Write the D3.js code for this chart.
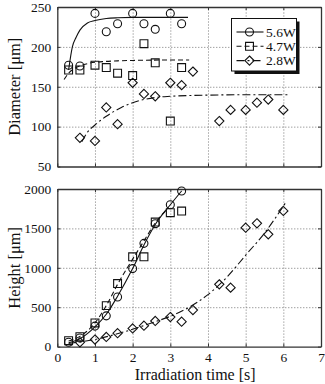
<!DOCTYPE html>
<html>
<head>
<meta charset="utf-8">
<script src="https://cdn.jsdelivr.net/npm/d3@7"></script>
<style>
  html, body { margin: 0; padding: 0; background: #fff; }
  svg { display: block; }
  text { font-family: "Liberation Serif", "Times New Roman", serif; fill: #111; }
</style>
</head>
<body>
<svg id="chart" width="325" height="384"></svg>
<script>
// Tick values
const timeTicks = [0, 1, 2, 3, 4, 5, 6, 7];
const diameterTicks = [50, 100, 150, 200, 250];
const heightTicks = [0, 500, 1000, 1500, 2000];

// Measured irradiation times [s]
const timeHigh = [0.3, 0.6, 1.0, 1.3, 1.6, 2.0, 2.3, 2.6, 3.0, 3.3];
const timeLow = [0.6, 1.0, 1.3, 1.6, 2.0, 2.3, 2.6, 3.0, 3.3, 3.6, 4.3, 4.6, 5.0, 5.3, 5.6, 6.0];

// Diameter [um]
const diameter56 = [177, 176, 242, 219, 229, 242, 229, 222, 242, 229];
const diameter47 = [171, 171, 177, 174, 167, 164, 204, 180, 107, 174];
const diameter28 = [86, 82, 124, 103, 155, 141, 138, 155, 152, 169, 107, 121, 121, 130, 134, 121];

// Height [um]
const height56 = [55, 110, 260, 390, 630, 990, 1310, 1560, 1800, 1975];
const height47 = [75, 125, 300, 520, 800, 1140, 1140, 1580, 1700, 1720];
const height28 = [55, 90, 122, 170, 230, 265, 325, 375, 316, 464, 790, 748, 1509, 1565, 1425, 1721];

// Trend curves (diameter)
const fitDiam56T = [0.3, 0.4, 0.5, 0.6, 0.8, 1.0, 1.3, 1.6, 2.0, 2.5, 3.0, 3.47];
const fitDiam56V = [171, 200, 212, 221, 230, 233, 235.5, 236.5, 237, 237, 237, 237];
const fitDiam47T = [0.18, 0.3, 0.5, 0.8, 1.2, 1.6, 2.0, 2.5, 3.0, 3.5];
const fitDiam47V = [159, 167, 174, 179, 181.5, 182.5, 183, 183.4, 183.5, 183.5];
const fitDiam28T = [0.65, 0.8, 1.0, 1.3, 1.7, 2.0, 2.3, 2.6, 3.0, 3.5, 4.0, 5.0, 6.17];
const fitDiam28V = [81, 93, 102, 113, 124, 130, 134, 136.5, 138, 139, 139.5, 140, 140];

// Trend curves (height)
const fitH56T = [0.3, 0.6, 1.0, 1.3, 1.6, 2.0, 2.3, 2.6, 3.0, 3.3];
const fitH56V = [50, 100, 250, 410, 640, 990, 1290, 1550, 1800, 1975];
const fitH47T = [0.3, 0.6, 1.0, 1.3, 1.6, 2.0, 2.3, 2.6, 2.95];
const fitH47V = [70, 130, 300, 520, 790, 1110, 1340, 1570, 1760];
const fitH28T = [0.3, 0.6, 1.0, 1.5, 2.0, 2.5, 3.0, 3.5, 4.0, 4.5, 5.0, 5.5, 6.08];
const fitH28V = [40, 60, 90, 150, 220, 300, 385, 500, 660, 880, 1160, 1440, 1840];

const seriesNames = ["5.6W", "4.7W", "2.8W"];
const dashes = [null, "5,3", "8,3,2,3"];

const svg = d3.select("#chart");
const left = 57.3, right = 321;

const x = d3.scaleLinear().domain([0, 7]).range([left, right]);
const yDiam = d3.scaleLinear().domain([50, 250]).range([166.5, 7]);
const yHeight = d3.scaleLinear().domain([0, 2000]).range([346.6, 189]);

function marker(g, kind, cx, cy) {
  const s = g.append("path")
    .attr("fill", "none").attr("stroke", "#111").attr("stroke-width", 1.1);
  if (kind === 0) {
    s.attr("d", d3.symbol(d3.symbolCircle, 50)()).attr("transform", `translate(${cx},${cy})`);
  } else if (kind === 1) {
    s.attr("d", d3.symbol(d3.symbolSquare, 62)()).attr("transform", `translate(${cx},${cy})`);
  } else {
    const r = 4.6;
    s.attr("d", `M0,${-r}L${r},0L0,${r}L${-r},0Z`).attr("transform", `translate(${cx},${cy})`);
  }
}

function panel(y, yTicks, fits, points, showX) {
  const g = svg.append("g");
  const top = y.range()[1], bottom = y.range()[0];

  // dotted grid
  g.append("g").attr("transform", `translate(0,${bottom})`)
    .call(d3.axisBottom(x).tickValues(timeTicks.slice(1, -1)).tickSize(-(bottom - top)).tickFormat(""))
    .call(a => a.select(".domain").remove())
    .call(a => a.selectAll("line").attr("stroke", "#777").attr("stroke-dasharray", "1,2"));
  g.append("g").attr("transform", `translate(${left},0)`)
    .call(d3.axisLeft(y).tickValues(yTicks.slice(1, -1)).tickSize(-(right - left)).tickFormat(""))
    .call(a => a.select(".domain").remove())
    .call(a => a.selectAll("line").attr("stroke", "#777").attr("stroke-dasharray", "1,2"));

  // axes with inward ticks
  const styleAxis = a => {
    a.select(".domain").attr("stroke", "#333").attr("stroke-width", 1.3);
    a.selectAll(".tick line").attr("stroke", "#333");
    a.selectAll("text").style("font-size", "13.5px").style("font-family", '"Liberation Serif", serif').attr("fill", "#111");
  };
  g.append("g").attr("transform", `translate(0,${bottom})`)
    .call(d3.axisBottom(x).tickValues(timeTicks).tickSizeInner(-3).tickSizeOuter(0).tickPadding(6)
      .tickFormat(showX ? d3.format("d") : ""))
    .call(styleAxis);
  g.append("g").attr("transform", `translate(0,${top})`)
    .call(d3.axisTop(x).tickValues(timeTicks).tickSizeInner(-3).tickSizeOuter(0).tickFormat(""))
    .call(styleAxis);
  g.append("g").attr("transform", `translate(${left},0)`)
    .call(d3.axisLeft(y).tickValues(yTicks).tickSizeInner(-3).tickSizeOuter(0).tickPadding(6).tickFormat(d3.format("d")))
    .call(styleAxis);
  g.append("g").attr("transform", `translate(${right},0)`)
    .call(d3.axisRight(y).tickValues(yTicks).tickSizeInner(-3).tickSizeOuter(0).tickFormat(""))
    .call(styleAxis);

  // trend curves
  const line = d3.line().curve(d3.curveMonotoneX).x(d => x(d[0])).y(d => y(d[1]));
  fits.forEach((f, i) => {
    g.append("path")
      .datum(d3.zip(f[0], f[1]))
      .attr("d", line)
      .attr("fill", "none").attr("stroke", "#111").attr("stroke-width", 1.1)
      .attr("stroke-dasharray", dashes[i]);
  });

  // measured points
  points.forEach((p, i) => {
    p[0].forEach((t, j) => marker(g, i, x(t), y(p[1][j])));
  });
}

panel(yDiam, diameterTicks,
  [[fitDiam56T, fitDiam56V], [fitDiam47T, fitDiam47V], [fitDiam28T, fitDiam28V]],
  [[timeHigh, diameter56], [timeHigh, diameter47], [timeLow, diameter28]], false);

panel(yHeight, heightTicks,
  [[fitH56T, fitH56V], [fitH47T, fitH47V], [fitH28T, fitH28V]],
  [[timeHigh, height56], [timeHigh, height47], [timeLow, height28]], true);

// axis titles
svg.append("text").attr("transform", `translate(19.5,${(7 + 166.5) / 2}) rotate(-90)`)
  .attr("text-anchor", "middle").style("font-size", "16.5px").text("Diameter [μm]");
svg.append("text").attr("transform", `translate(19.5,${(189 + 346.6) / 2}) rotate(-90)`)
  .attr("text-anchor", "middle").style("font-size", "16.5px").text("Height [μm]");
svg.append("text").attr("x", (left + right) / 2 + 6).attr("y", 380)
  .attr("text-anchor", "middle").style("font-size", "16px").text("Irradiation time [s]");

// legend
const lg = svg.append("g").attr("transform", "translate(231.5,18.5)");
const lw = 65, lh = 52.5;
lg.append("rect").attr("x", 3).attr("y", 3).attr("width", lw).attr("height", lh).attr("fill", "#111");
lg.append("rect").attr("width", lw).attr("height", lh).attr("fill", "#fff").attr("stroke", "#111").attr("stroke-width", 1);
seriesNames.forEach((name, i) => {
  const yy = 13.5 + i * 14.3;
  lg.append("line").attr("x1", 5).attr("x2", 32).attr("y1", yy).attr("y2", yy)
    .attr("stroke", "#111").attr("stroke-width", 1.1).attr("stroke-dasharray", dashes[i]);
  marker(lg, i, 18, yy);
  lg.append("text").attr("x", 34.5).attr("y", yy + 4.6).style("font-size", "13.5px").text(name);
});
</script>
</body>
</html>
